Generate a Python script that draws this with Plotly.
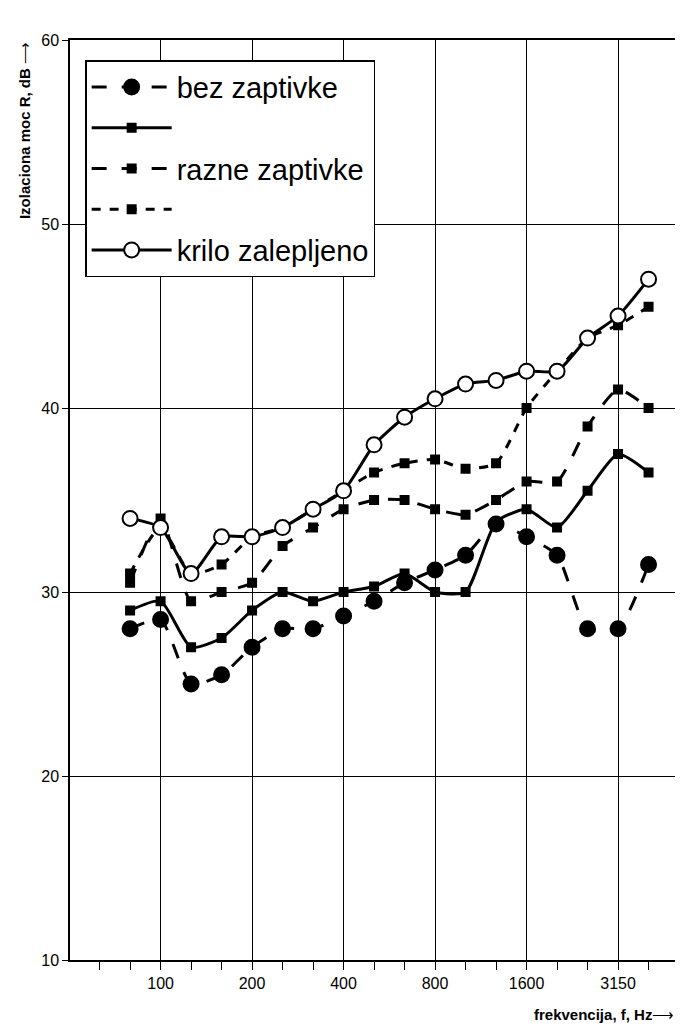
import plotly.graph_objects as go

freqs = [80,100,125,160,200,250,315,400,500,630,800,1000,1250,1600,2000,2500,3150,4000]
tick_labels = ["100","200","400","800","1600","3150"]
tick_freqs = [100,200,400,800,1600,3150]

bez = [28,28.5,25,25.5,27,28,28,28.7,29.5,30.5,31.2,32,33.7,33,32,28,28,31.5]
sq_a = [29,29.5,27,27.5,29,30,29.5,30,30.3,31,30,30,33.8,34.5,33.5,35.5,37.5,36.5]
sq_b = [30.5,34,29.5,30,30.5,32.5,33.5,34.5,35,35,34.5,34.2,35,36,36,39,41,40]
sq_c = [31,33.5,31,31.5,33,33.5,34.5,35.5,36.5,37,37.2,36.7,37,40,42,43.8,44.5,45.5]
krilo = [34,33.5,31,33,33,33.5,34.5,35.5,38,39.5,40.5,41.3,41.5,42,42,43.8,45,47]

x = list(range(len(freqs)))
tickvals = [freqs.index(f) for f in tick_freqs]

fig = go.Figure()
def add(y, name, dash, fill, size):
    fig.add_trace(go.Scatter(x=x, y=y, name=name, mode="lines+markers",
        line=dict(color="black", width=3, dash=dash, shape="spline", smoothing=0.6),
        marker=dict(symbol="circle" if size > 10 else "square", size=size, color=fill,
                    line=dict(color="black", width=2))))
add(bez, "bez zaptivke", "longdash", "black", 15)
add(sq_a, " ", "solid", "black", 8)
add(sq_b, "razne zaptivke", "longdash", "black", 8)
add(sq_c, "  ", "dash", "black", 8)
add(krilo, "krilo zalepljeno", "solid", "white", 15)

fig.update_layout(
    width=683, height=1024, plot_bgcolor="white", paper_bgcolor="white",
    margin=dict(l=62, r=15, t=32, b=72, autoexpand=False),
    font=dict(family="Liberation Sans, Arial", color="black"),
    legend=dict(x=0.025, y=0.978, xanchor="left", yanchor="top",
                bgcolor="white", bordercolor="black", borderwidth=1.5,
                font=dict(size=29), itemwidth=80, tracegroupgap=0),
    xaxis=dict(range=[-1.97, 17.9], tickvals=tickvals, ticktext=tick_labels,
               showgrid=True, gridcolor="black", gridwidth=1, ticks="outside",
               ticklen=8, tickcolor="black", tickfont=dict(size=16),
               showline=True, linecolor="black", linewidth=1.5, mirror=True,
               minor=dict(tick0=0, dtick=1, ticks="outside", ticklen=8, tickcolor="black", showgrid=False),
               zeroline=False),
    yaxis=dict(range=[10, 60], tickvals=[10,20,30,40,50,60], showgrid=True,
               gridcolor="black", gridwidth=1, ticks="outside", ticklen=6,
               tickcolor="black", tickfont=dict(size=16),
               showline=True, linecolor="black", linewidth=1.5, mirror=True, zeroline=False),
)
fig.add_annotation(text="<b>frekvencija, f, Hz</b>⟶", xref="paper", yref="paper",
                   x=1.0, y=-0.048, xanchor="right", yanchor="top", showarrow=False,
                   font=dict(size=15))
fig.add_annotation(text="<b>Izolaciona moc R, dB</b> ⟶", xref="paper", yref="paper",
                   x=-0.075, y=1.0, xanchor="center", yanchor="top", textangle=-90,
                   showarrow=False, font=dict(size=15))
fig.write_html("out.html")
